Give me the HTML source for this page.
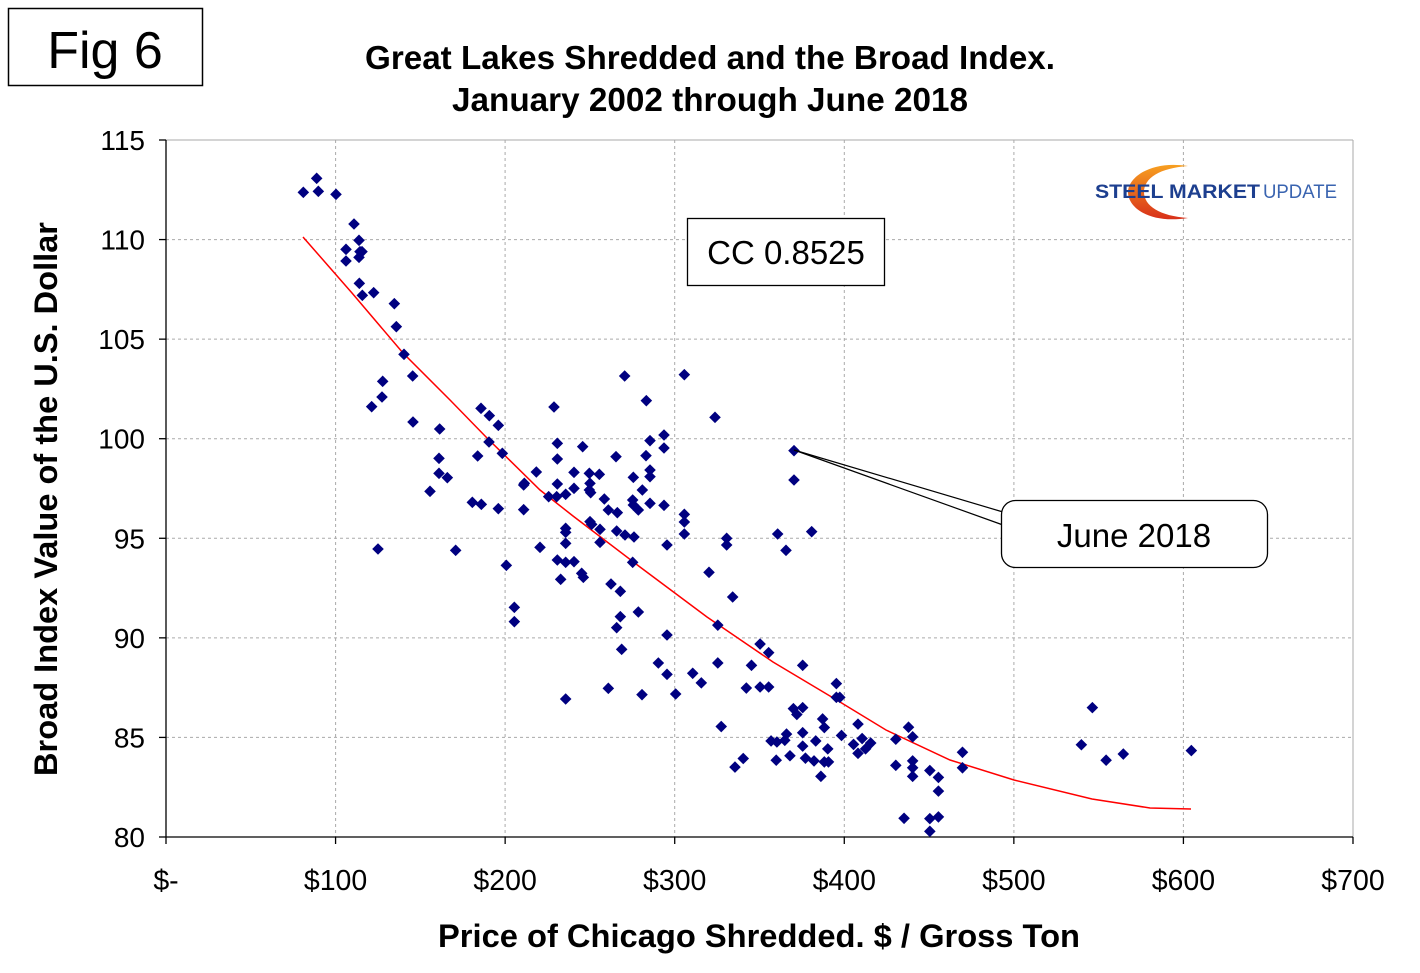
<!DOCTYPE html>
<html><head><meta charset="utf-8"><style>
body{margin:0;background:#fff;}
svg{display:block;font-family:"Liberation Sans",sans-serif;}
</style></head><body>
<svg id="s" width="1420" height="973" xmlns="http://www.w3.org/2000/svg">
<rect width="1420" height="973" fill="#fff"/>
<rect x="8.5" y="8.5" width="194" height="77" fill="#fff" stroke="#000" stroke-width="1.5"/>
<text x="105" y="68" font-size="52" text-anchor="middle">Fig 6</text>
<text x="710" y="69" font-size="33" font-weight="bold" text-anchor="middle" textLength="690" lengthAdjust="spacingAndGlyphs">Great Lakes Shredded and the Broad Index.</text>
<text x="710" y="111" font-size="33" font-weight="bold" text-anchor="middle" textLength="516" lengthAdjust="spacingAndGlyphs">January 2002 through June 2018</text>
<g stroke="#aaa" stroke-width="1" stroke-dasharray="3,3">
<line x1="166" y1="239.6" x2="1353" y2="239.6"/><line x1="166" y1="339.1" x2="1353" y2="339.1"/>
<line x1="166" y1="438.7" x2="1353" y2="438.7"/><line x1="166" y1="538.3" x2="1353" y2="538.3"/>
<line x1="166" y1="637.9" x2="1353" y2="637.9"/><line x1="166" y1="737.4" x2="1353" y2="737.4"/>
<line x1="335.6" y1="140" x2="335.6" y2="837"/><line x1="505.1" y1="140" x2="505.1" y2="837"/>
<line x1="674.7" y1="140" x2="674.7" y2="837"/><line x1="844.3" y1="140" x2="844.3" y2="837"/>
<line x1="1013.9" y1="140" x2="1013.9" y2="837"/><line x1="1183.4" y1="140" x2="1183.4" y2="837"/>
</g>
<line x1="166" y1="140" x2="1353" y2="140" stroke="#aaa"/>
<line x1="1353" y1="140" x2="1353" y2="837" stroke="#aaa"/>
<g stroke="#000" stroke-width="1.3">
<line x1="166" y1="140" x2="166" y2="837"/><line x1="166" y1="837" x2="1353" y2="837"/>
</g>
<g id="ticks" stroke="#000" stroke-width="1.3"></g>
<g font-size="28" text-anchor="end" id="yl"></g>
<g font-size="28.5" text-anchor="middle" id="xl"></g>
<text transform="translate(57,499) rotate(-90)" font-size="32.5" font-weight="bold" text-anchor="middle" textLength="554" lengthAdjust="spacingAndGlyphs">Broad Index Value of the U.S. Dollar</text>
<text x="759" y="947" font-size="32.5" font-weight="bold" text-anchor="middle" textLength="642" lengthAdjust="spacingAndGlyphs">Price of Chicago Shredded. $ / Gross Ton</text>
<!-- logo -->
<defs><linearGradient id="og" x1="0" y1="0" x2="0" y2="1"><stop offset="0" stop-color="#f7a020"/><stop offset="1" stop-color="#d8301a"/></linearGradient></defs>
<path d="M1188,166 C1150,160 1128,178 1128,192 C1128,208 1150,224 1188,218 C1160,216 1144,206 1144,192 C1144,178 1160,168 1188,166 Z" fill="url(#og)"/>
<text x="1095" y="198" font-size="19" font-weight="bold" fill="#1d3f8f" textLength="165" lengthAdjust="spacingAndGlyphs">STEEL MARKET</text>
<text x="1263" y="198" font-size="19" fill="#3a64b0" textLength="74" lengthAdjust="spacingAndGlyphs">UPDATE</text>
<rect x="687.5" y="218.5" width="197" height="67" fill="#fff" stroke="#000" stroke-width="1.3"/>
<text x="786" y="264" font-size="33" text-anchor="middle">CC 0.8525</text>
<polyline id="curve" fill="none" stroke="#f00" stroke-width="1.5"/>
<g id="pts" fill="#000080"></g>
<line x1="794" y1="450" x2="1003" y2="512" stroke="#000" stroke-width="1.2"/>
<line x1="794" y1="450" x2="1003" y2="525" stroke="#000" stroke-width="1.2"/>
<rect x="1001.5" y="500.5" width="266" height="67" rx="14" fill="#fff" stroke="#000" stroke-width="1.3"/>
<text x="1134" y="547" font-size="33" text-anchor="middle">June 2018</text>
</svg>
<script>
var NS="http://www.w3.org/2000/svg";
function el(p,t,a,txt){var e=document.createElementNS(NS,t);for(var k in a)e.setAttribute(k,a[k]);if(txt)e.textContent=txt;document.getElementById(p).appendChild(e);}
var yv=[115,110,105,100,95,90,85,80];
yv.forEach(function(v){var y=140+(115-v)*19.914;el("ticks","line",{x1:159,y1:y,x2:166,y2:y});el("yl","text",{x:145,y:y+10},String(v));});
var xv=["$-","$100","$200","$300","$400","$500","$600","$700"];
xv.forEach(function(v,i){var x=166+i*169.57;el("ticks","line",{x1:x,y1:837,x2:x,y2:844});el("xl","text",{x:x,y:890},v);});
var z1=[[70,97],[110,55],[115,94],[168,103],[222,192],[237,241],[198,268],[240,275],[246,275],[237,292],[198,303],[238,370],[247,406],[281,398],[343,431],[349,500],[372,583],[398,648],[308,664],[306,711],[275,740],[399,786],[479,807],[477,895],[477,940],[502,953],[450,994],[593,888],[603,745],[628,767],[655,796],[627,846],[667,880],[577,1027],[604,1033],[655,1046],[731,1049],[769,936],[733,970],[731,975],[822,741],[832,850],[832,897],[908,860],[882,937],[832,972],[857,1003],[882,985],[806,1010],[830,1010],[928,940],[958,943],[930,970],[928,990],[932,998],[1008,890],[1034,648],[1099,722],[1098,887],[1110,842],[1152,825],[1152,864],[1110,930],[1110,950],[1060,952],[1087,990],[973,1017],[985,1050],[1012,1058],[1058,1020],[1060,1035],[1075,1050],[1110,1030],[1152,1036],[1213,644],[1305,772],[1213,1063]];
var z2=[[555,47],[733,43],[622,122],[342,142],[123,146],[148,167],[175,195],[825,172],[4,208],[630,241],[671,224],[671,265],[352,250],[430,261],[530,292],[620,287],[148,247],[113,290],[186,282],[4,295],[352,297],[290,334],[402,337],[448,338],[480,344],[20,353],[578,352],[630,330],[630,350],[250,367],[255,378],[352,373],[450,373],[453,395],[402,385],[606,388],[1062,272],[1062,360],[322,410],[352,411],[377,404],[493,416],[578,418],[578,432],[595,440],[591,452],[632,428],[671,435],[95,426],[123,433],[175,444],[250,450],[505,450],[531,460],[398,470],[733,462],[733,486],[450,485],[455,493],[480,508],[377,505],[377,517],[530,513],[555,525],[582,531],[733,522],[860,535],[860,555],[1013,522],[1115,515],[1038,571],[47,571],[300,562],[377,550],[480,547],[681,555],[199,616],[352,600],[377,607],[402,605],[578,607],[425,640],[430,652],[362,658],[513,672],[541,694],[807,637],[878,711],[223,742],[223,785],[541,770],[530,803],[595,756],[681,825],[832,798],[962,850],[987,875],[545,868],[377,1017],[505,985],[606,1004],[655,909],[681,943],[707,1002],[758,936],[783,965],[832,904],[934,912],[920,978],[962,975],[987,975],[1090,912],[1062,1040],[1072,1055],[1090,1033],[1150,1068],[1188,965],[1190,1005]];
var z3=[[110,15],[37,155],[62,183],[110,125],[233,70],[258,95],[208,132],[357,132],[193,198],[233,195],[258,195],[120,310],[160,428],[184,403],[330,258],[340,275],[357,255],[415,288],[420,313],[455,185],[455,225],[465,225],[357,328],[310,332],[265,352],[282,355],[305,350],[357,367],[395,352],[430,375],[320,395],[280,408],[365,402],[390,410],[420,413],[432,413],[410,455],[470,336],[518,303],[505,362],[530,345],[518,388],[540,375],[555,358],[628,347],[665,312],[677,340],[628,423],[677,410],[677,430],[677,455],[727,438],[752,458],[752,498],[822,385],[822,430],[652,577],[727,578],[752,573],[727,615],[1200,255],[1168,363],[1240,408],[1290,390],[1488,380]];
var P=[];
z1.forEach(function(p){P.push([280+p[0]/3,160+p[1]/3]);});
z2.forEach(function(p){var x=440+p[0]/3,y=360+p[1]/3;if(!(p[1]>=480||p[0]>=900))return;if(x>=680&&y>=620)return;P.push([x,y]);});
z3.forEach(function(p){P.push([680+p[0]/2.91,620+p[1]/2.91]);});
P.push([378,549]);
P.forEach(function(p){var x=p[0],y=p[1],r=5.8;el("pts","polygon",{points:(x)+","+(y-r)+" "+(x+r)+","+y+" "+x+","+(y+r)+" "+(x-r)+","+y});});
var c=[[303,237],[352,293],[403,353],[450,400],[487,438],[540,490],[573,516],[640,567],[707,617],[773,662],[840,702],[886,730],[950,760],[1014,780],[1092,799],[1150,808],[1191,809]];
document.getElementById("curve").setAttribute("points",c.map(function(p){return p.join(",");}).join(" "));
</script>
</body></html>
